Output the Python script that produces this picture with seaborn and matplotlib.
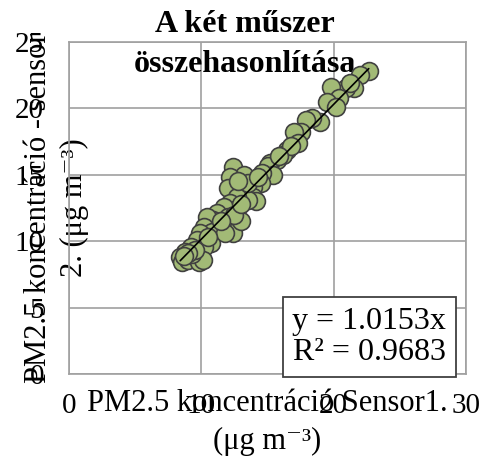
import matplotlib
matplotlib.use("Agg")
import matplotlib.pyplot as plt
import seaborn as sns
import numpy as np
import pandas as pd

# ---- data ----
sensor1 = [22.65, 22.0, 21.5, 20.9, 19.8, 20.4, 19.5, 20.2, 21.2, 19.0, 18.4, 17.9,
           17.5, 17.0, 17.3, 16.5, 16.2, 15.7, 15.2, 15.0, 15.4, 14.6, 14.5, 13.9,
           16.8, 15.9,
           12.4, 13.2, 12.2, 12.0, 13.2, 13.9, 14.1, 13.5, 12.7, 12.2, 12.7, 11.7,
           11.2, 12.0, 10.9, 11.4, 10.4, 10.2, 10.8, 9.9, 9.7, 10.7, 12.4, 11.8,
           10.2, 9.2, 8.8, 8.4, 8.55, 9.0, 9.8, 10.1, 9.3, 9.5, 13.5, 13.0, 12.5,
           13.0, 14.3, 12.8, 11.5, 10.5, 9.0, 8.7]
sensor2 = [22.8, 22.5, 21.5, 21.5, 21.6, 20.8, 20.5, 20.1, 21.9, 19.0, 19.3, 19.1,
           18.2, 18.2, 17.4, 16.9, 16.5, 16.1, 15.9, 15.7, 15.0, 15.1, 14.4, 14.1,
           17.2, 16.4,
           15.6, 15.0, 14.8, 14.0, 13.9, 13.3, 13.0, 13.1, 13.3, 12.9, 12.4, 12.6,
           12.1, 11.8, 11.6, 11.2, 11.8, 11.1, 10.7, 10.6, 10.1, 9.9, 10.6, 10.6,
           9.6, 9.6, 9.2, 8.8, 8.4, 8.6, 8.4, 8.6, 9.0, 9.3, 14.4, 11.5, 12.0,
           12.8, 14.8, 14.5, 11.5, 10.3, 9.1, 8.9]
slope = 1.0153
r2 = 0.9683
x_ticks = [0, 10, 20, 30]
y_ticks = [0, 5, 10, 15, 20, 25]

title = "A két műszer\nösszehasonlítása"
xlabel = "PM2.5 koncentráció Sensor1.\n(μg m⁻³)"
ylabel = "PM2.5 koncentráció - sensor\n2. (μg m⁻³)"
eq_text = f"y = {slope:.4f}x\nR² = {r2:.4f}"

df = pd.DataFrame({"s1": sensor1, "s2": sensor2})

sns.set_theme(style="white")
plt.rcParams["font.family"] = ["Liberation Serif", "DejaVu Serif"]
plt.rcParams["text.color"] = "black"
plt.rcParams["axes.labelcolor"] = "black"
plt.rcParams["xtick.color"] = "black"
plt.rcParams["ytick.color"] = "black"

fig = plt.figure(figsize=(4.82, 4.57), dpi=100)
ax = fig.add_axes([69/482, 1-374/457, 397/482, 332/457])

grid_c = "#a0a0a0"
ax.set_xlim(0, 30)
ax.set_ylim(0, 25)
ax.set_xticks(x_ticks)
ax.set_yticks(y_ticks)
ax.grid(True, color=grid_c, linewidth=1.2, zorder=0)
ax.set_axisbelow(True)
for s in ax.spines.values():
    s.set_color(grid_c)
    s.set_linewidth(1.2)

ax.tick_params(axis="x", length=0, pad=14, labelsize=21)
ax.tick_params(axis="y", length=0, pad=18, labelsize=21)

# title below markers, above grid
ax.text(245/482, 1-45/457, title, transform=fig.transFigure, ha="center", va="center",
        fontsize=23, fontweight="bold", zorder=1.5, linespacing=1.5, clip_on=False)

sns.scatterplot(data=df, x="s1", y="s2", ax=ax, s=165, color="#a2ba76",
                edgecolor="#404040", linewidth=1.2, zorder=3, legend=False)

xs = np.array([min(sensor1), max(sensor1)])
ax.plot(xs, slope * xs, color="black", linewidth=1.2, zorder=4)

ax.set_xlabel(xlabel, fontsize=22, linespacing=1.4)
ax.set_ylabel(ylabel, fontsize=22, linespacing=1.3)
ax.xaxis.set_label_coords(0.5, -0.045)
ax.yaxis.set_label_coords(0.05, 0.5)

ax.text(0.95, 0.021, eq_text, transform=ax.transAxes, ha="right", va="bottom",
        fontsize=23, zorder=5, linespacing=1.1, clip_on=False,
        bbox=dict(boxstyle="square,pad=0.3", facecolor="white", edgecolor="#404040", linewidth=1.3))

fig.savefig("out.png", dpi=100)
